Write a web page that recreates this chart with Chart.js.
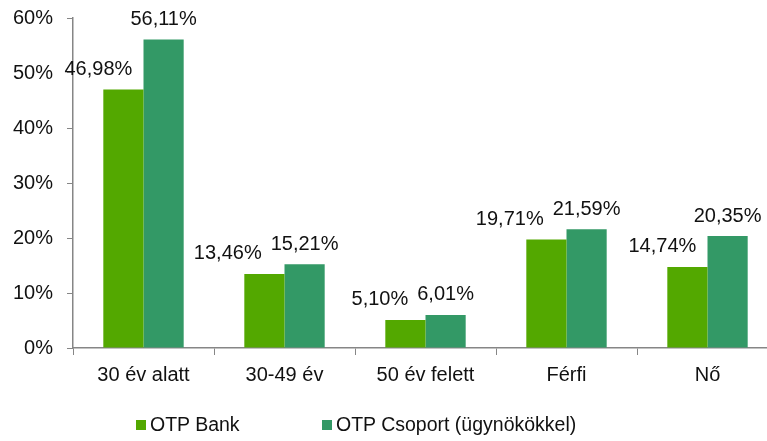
<!DOCTYPE html>
<html>
<head>
<meta charset="utf-8">
<script src="https://cdn.jsdelivr.net/npm/chart.js@4"></script>
<style>
  body { margin: 0; overflow: hidden; background: #fff; width: 767px; height: 441px; position: relative; }
  #chart { position: absolute; left: 0; top: 0; }
  .legend { position: absolute; top: 412px; font-family: "Liberation Sans", Arial, sans-serif; font-size: 19.5px; color: #111; line-height: 24px; white-space: nowrap; }
  .legend span.box { display: inline-block; width: 10px; height: 10px; margin-right: 4px; vertical-align: 1px; }
</style>
</head>
<body>
<canvas id="chart" width="780" height="441"></canvas>
<div class="legend" id="leg1" style="left:136px"><span class="box"></span><span class="txt"></span></div>
<div class="legend" id="leg2" style="left:322px"><span class="box"></span><span class="txt"></span></div>
<script>
const categories = ["30 év alatt", "30-49 év", "50 év felett", "Férfi", "Nő"];
const seriesNames = ["OTP Bank", "OTP Csoport (ügynökökkel)"];
const otpBank = [46.98, 13.46, 5.10, 19.71, 14.74];
const otpCsoport = [56.11, 15.21, 6.01, 21.59, 20.35];
const yTicks = [0, 10, 20, 30, 40, 50, 60];

const colors = ["#53a800", "#339966"];
const fontFamily = '"Liberation Sans", Arial, sans-serif';
const axisColor = "#868686";

function fmt(v) {
  return v.toFixed(2).replace(".", ",") + "%";
}

// value labels above the bars; the first series label sits left of its bar
// and is pushed further left when it would run into its neighbour
const valueLabels = {
  id: "valueLabels",
  afterDatasetsDraw(chart) {
    const ctx = chart.ctx;
    ctx.save();
    ctx.font = "20px " + fontFamily;
    ctx.fillStyle = "#111";
    ctx.textAlign = "center";
    ctx.textBaseline = "middle";
    const metaA = chart.getDatasetMeta(0);
    const metaB = chart.getDatasetMeta(1);
    metaB.data.forEach((barB, j) => {
      const barA = metaA.data[j];
      const textA = fmt(otpBank[j]);
      const textB = fmt(otpCsoport[j]);
      const wA = ctx.measureText(textA).width;
      const wB = ctx.measureText(textB).width;
      const yA = barA.y - 20;
      const yB = barB.y - 20;
      let xA = barA.x - 25;
      if (Math.abs(yA - yB) < 16) {
        xA = Math.min(xA, barB.x - wB / 2 - 9 - wA / 2);
      }
      ctx.fillText(textA, xA, yA);
      ctx.fillText(textB, barB.x, yB);
    });
    ctx.restore();
  },
};

new Chart(document.getElementById("chart"), {
  type: "bar",
  data: {
    labels: categories,
    datasets: [
      { label: seriesNames[0], data: otpBank, backgroundColor: colors[0] },
      { label: seriesNames[1], data: otpCsoport, backgroundColor: colors[1] },
    ],
  },
  options: {
    responsive: false,
    animation: false,
    categoryPercentage: 0.57,
    barPercentage: 1.0,
    layout: { padding: { top: 18, right: 2, left: 0, bottom: 0 } },
    plugins: {
      legend: { display: false },
      tooltip: { enabled: false },
    },
    scales: {
      x: {
        grid: { offset: true, drawOnChartArea: false, color: axisColor, tickLength: 7 },
        border: { color: axisColor, width: 1.5 },
        ticks: { color: "#111", font: { size: 20, family: fontFamily }, padding: 8 },
        afterFit(scale) {
          scale.height = 93;
        },
      },
      y: {
        min: 0,
        max: 60,
        afterBuildTicks(scale) {
          scale.ticks = yTicks.map((v) => ({ value: v }));
        },
        grid: { drawOnChartArea: false, color: axisColor, tickLength: 6 },
        border: { color: axisColor, width: 1.5 },
        ticks: {
          color: "#111",
          font: { size: 20, family: fontFamily },
          padding: 14,
          callback: (v) => v + "%",
        },
        afterFit(scale) {
          scale.width = 73;
          scale.paddingTop = 0;
          scale.paddingBottom = 0;
        },
      },
    },
  },
  plugins: [valueLabels],
});

["leg1", "leg2"].forEach((id, i) => {
  const el = document.getElementById(id);
  el.querySelector(".box").style.background = colors[i];
  el.querySelector(".txt").textContent = seriesNames[i];
});
</script>
</body>
</html>
